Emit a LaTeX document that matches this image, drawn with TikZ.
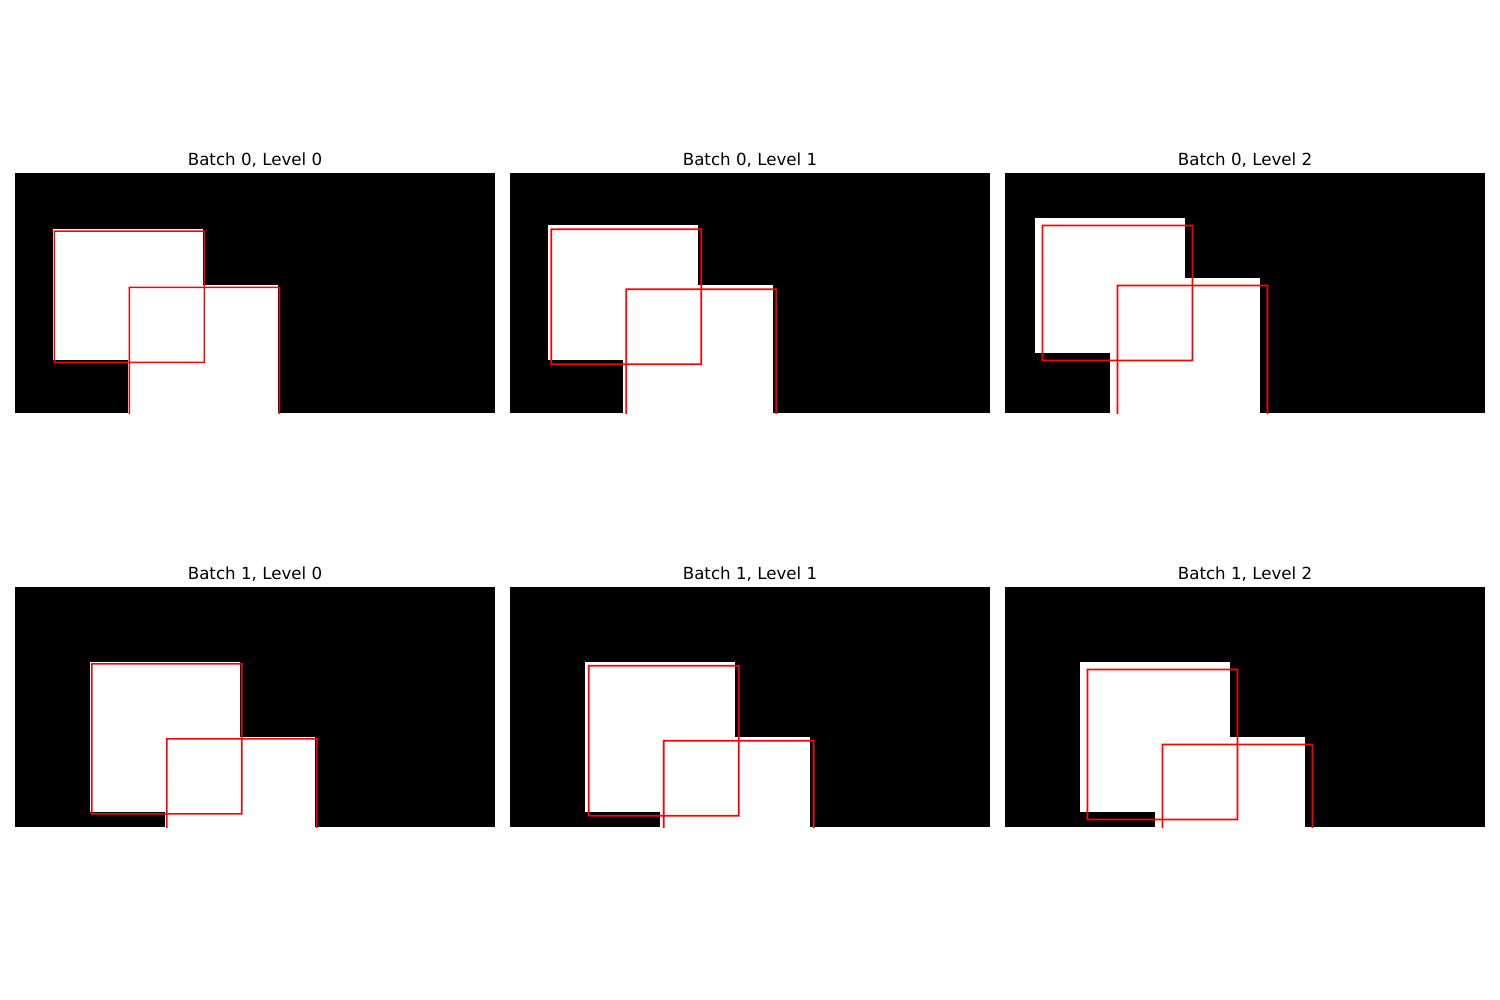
\documentclass[tikz,border=0pt]{standalone}
\usepackage{fontspec}
\setmainfont{DejaVu Sans}
\begin{document}
\begin{tikzpicture}[x=1pt,y=-1pt,
  redbox/.style={fill=red, even odd rule},
  paneltitle/.style={anchor=base, inner sep=0pt, font=\fontsize{16.67}{20}\selectfont}]
\fill[white] (0,0) rectangle (1500,1000);
\useasboundingbox (0,0) rectangle (1500,1000);
\def\hw{0.8}
\foreach \b/\l/\ax/\ay/\bx/\by/\cx/\cy/\dx/\dy in {
  0/0/10/15/50/50/30/30/70/70,
  0/1/5/7/25/25/15/15/35/35,
  0/2/2/3/12/12/7/7/17/17,
  1/0/20/20/60/60/40/40/80/80,
  1/1/10/10/30/30/20/20/40/40,
  1/2/5/5/15/15/10/10/20/20}{
  \pgfmathsetmacro\L{15+495*\l}
  \pgfmathsetmacro\T{173+414*\b}
  \pgfmathsetmacro\s{3.75*2^\l}
  \node[paneltitle] (t\b\l) at ({\L+240},{\T-7.8}) {Batch \b, Level \l};
  \begin{scope}[shift={(\L,\T)}]
    \clip (0,0) rectangle (480,240);
    \fill[black] (0,0) rectangle (480,240);
    \fill[white] ({\ax*\s},{\ay*\s}) rectangle ({\bx*\s},{\by*\s});
    \fill[white] ({\cx*\s},{\cy*\s}) rectangle ({\dx*\s},{\dy*\s});
    \path[redbox] ({(\ax+0.5)*\s-\hw},{(\ay+0.5)*\s-\hw}) rectangle ({(\bx+0.5)*\s+\hw},{(\by+0.5)*\s+\hw})
                  ({(\ax+0.5)*\s+\hw},{(\ay+0.5)*\s+\hw}) rectangle ({(\bx+0.5)*\s-\hw},{(\by+0.5)*\s-\hw});
    \path[redbox] ({(\cx+0.5)*\s-\hw},{(\cy+0.5)*\s-\hw}) rectangle ({(\dx+0.5)*\s+\hw},{(\dy+0.5)*\s+\hw})
                  ({(\cx+0.5)*\s+\hw},{(\cy+0.5)*\s+\hw}) rectangle ({(\dx+0.5)*\s-\hw},{(\dy+0.5)*\s-\hw});
  \end{scope}
}
\end{tikzpicture}
\end{document}
